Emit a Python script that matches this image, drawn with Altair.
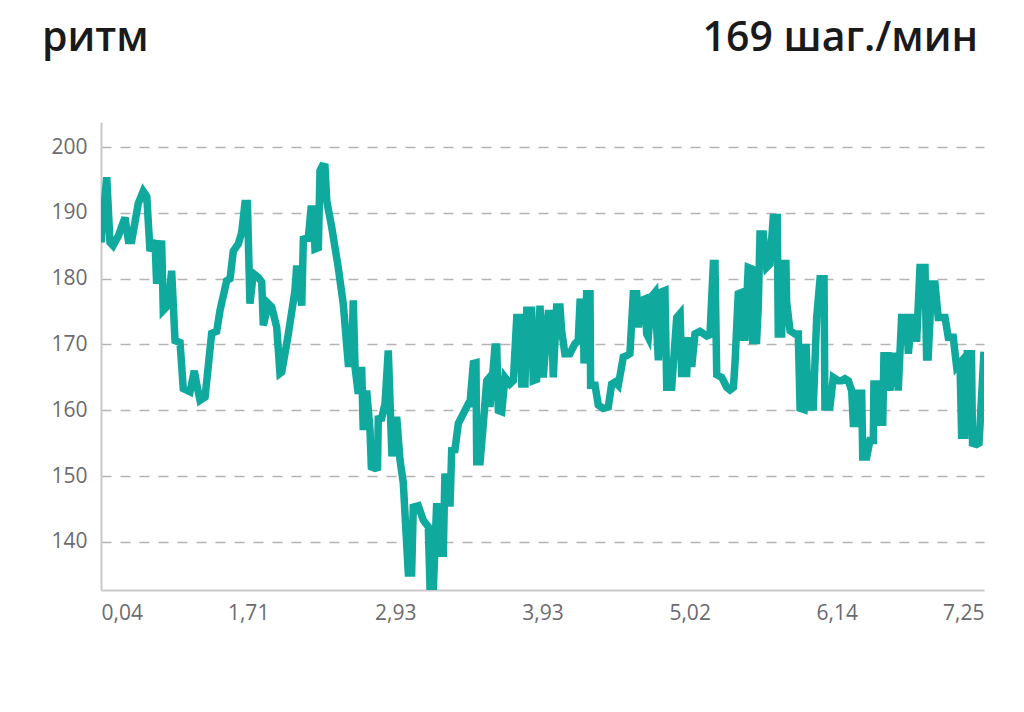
import json
import altair as alt
import pandas as pd

# progress along the run (0..6 = the six labelled segments) and cadence (steps/min)
progress = [0, 0.039, 0.061, 0.082, 0.118, 0.163, 0.186, 0.209, 0.253, 0.287,
            0.311, 0.333, 0.367, 0.378, 0.412, 0.423, 0.457, 0.480, 0.503, 0.537,
            0.559, 0.605, 0.634, 0.650, 0.673, 0.707, 0.752, 0.786, 0.809, 0.854,
            0.877, 0.899, 0.933, 0.956, 0.978, 0.995, 1.012, 1.035, 1.069, 1.092,
            1.103, 1.137, 1.160, 1.194, 1.216, 1.228, 1.273, 1.318, 1.330, 1.364,
            1.375, 1.409, 1.427, 1.443, 1.454, 1.477, 1.488, 1.504, 1.522, 1.534,
            1.568, 1.612, 1.646, 1.680, 1.703, 1.714, 1.726, 1.748, 1.771, 1.782,
            1.805, 1.828, 1.837, 1.862, 1.879, 1.884, 1.907, 1.930, 1.952, 1.977,
            2.009, 2.032, 2.054, 2.088, 2.111, 2.122, 2.156, 2.190, 2.224, 2.236,
            2.258, 2.281, 2.292, 2.326, 2.337, 2.360, 2.372, 2.383, 2.405, 2.428,
            2.462, 2.496, 2.507, 2.530, 2.548, 2.553, 2.576, 2.598, 2.621, 2.632,
            2.643, 2.677, 2.689, 2.700, 2.723, 2.745, 2.779, 2.802, 2.825, 2.847,
            2.859, 2.881, 2.893, 2.926, 2.937, 2.960, 2.983, 3.005, 3.039, 3.062,
            3.073, 3.096, 3.119, 3.130, 3.152, 3.186, 3.220, 3.243, 3.255, 3.277,
            3.282, 3.300, 3.323, 3.327, 3.357, 3.379, 3.413, 3.447, 3.470, 3.493,
            3.515, 3.549, 3.572, 3.594, 3.617, 3.640, 3.651, 3.674, 3.696, 3.708,
            3.719, 3.742, 3.764, 3.787, 3.810, 3.832, 3.844, 3.878, 3.912, 3.935,
            3.946, 3.980, 3.991, 4.014, 4.036, 4.070, 4.116, 4.138, 4.161, 4.172,
            4.184, 4.218, 4.252, 4.274, 4.297, 4.308, 4.330, 4.353, 4.364, 4.376,
            4.398, 4.421, 4.428, 4.455, 4.466, 4.478, 4.500, 4.523, 4.545, 4.568,
            4.595, 4.602, 4.625, 4.636, 4.654, 4.659, 4.682, 4.716, 4.738, 4.750,
            4.777, 4.791, 4.806, 4.840, 4.863, 4.886, 4.913, 4.919, 4.953, 4.976,
            5.010, 5.033, 5.055, 5.078, 5.101, 5.112, 5.135, 5.146, 5.169, 5.176,
            5.203, 5.225, 5.248, 5.252, 5.282, 5.293, 5.312, 5.320, 5.349, 5.361,
            5.383, 5.406, 5.417, 5.440, 5.474, 5.486, 5.508, 5.531, 5.542, 5.565,
            5.599, 5.610, 5.621, 5.644, 5.667, 5.689, 5.735, 5.757, 5.791, 5.814,
            5.837, 5.848, 5.870, 5.886, 5.915, 5.922, 5.949, 5.966, 5.981, 6.0]

cadence = [185.5, 195.4, 185.5, 185.0, 186.5, 189.3, 185.8, 185.8, 191.4, 193.3,
           192.5, 184.2, 185.8, 179.2, 185.8, 175.2, 176.0, 181.2, 170.6, 170.3,
           163.3, 162.8, 166.0, 164.0, 161.5, 162.0, 171.7, 172.0, 175.2, 179.7,
           180.0, 184.2, 185.3, 187.0, 191.4, 191.4, 176.2, 180.8, 180.2, 179.5,
           172.9, 176.2, 175.7, 172.6, 165.6, 165.8, 171.6, 178.2, 182.0, 175.9,
           186.0, 186.2, 190.6, 190.6, 184.5, 184.7, 196.4, 197.1, 197.0, 191.8,
           187.8, 181.7, 176.2, 167.1, 167.1, 176.7, 166.6, 162.5, 166.6, 157.0,
           163.0, 157.0, 151.4, 151.2, 151.3, 158.7, 158.8, 161.0, 169.1, 153.0,
           159.0, 152.4, 149.0, 135.3, 135.3, 145.3, 145.5, 143.3, 142.3, 132.8,
           132.8, 145.9, 138.3, 138.3, 150.4, 145.9, 145.9, 153.9, 154.0, 158.0,
           159.5, 161.0, 161.0, 167.1, 167.2, 152.2, 152.2, 158.0, 164.5, 164.8,
           160.5, 169.6, 169.6, 160.0, 159.8, 165.0, 164.0, 164.5, 174.1, 174.1,
           164.0, 164.0, 175.2, 175.2, 164.5, 164.7, 175.9, 165.0, 174.7, 174.7,
           165.0, 175.7, 175.7, 172.1, 168.6, 168.6, 170.1, 170.6, 176.4, 176.4,
           167.1, 177.7, 177.7, 163.8, 163.8, 160.8, 160.3, 160.5, 164.0, 164.3,
           163.8, 168.1, 168.3, 168.6, 177.7, 177.7, 172.6, 176.7, 176.9, 171.6,
           171.1, 177.3, 177.9, 167.6, 178.0, 178.2, 163.5, 163.5, 174.1, 174.7,
           165.6, 165.6, 171.1, 166.6, 171.6, 172.0, 171.3, 171.5, 182.3, 182.3,
           165.4, 165.0, 163.5, 163.1, 163.5, 167.1, 177.7, 177.9, 171.1, 171.1,
           181.7, 181.5, 170.6, 170.6, 175.7, 186.8, 186.8, 181.7, 182.2, 189.3,
           189.3, 171.6, 171.6, 182.3, 182.3, 176.4, 172.1, 171.6, 171.6, 160.3,
           160.1, 170.1, 160.5, 160.5, 174.1, 180.0, 180.0, 160.5, 160.5, 165.0,
           164.5, 164.5, 164.8, 164.5, 163.0, 158.0, 158.0, 162.6, 162.6, 152.9,
           152.9, 155.4, 155.4, 164.0, 164.0, 158.2, 158.2, 168.3, 168.3, 163.0,
           168.2, 168.2, 163.0, 174.1, 174.1, 168.6, 174.1, 174.1, 170.4, 181.7,
           181.7, 168.1, 168.1, 179.2, 179.2, 174.1, 174.1, 171.1, 171.1, 166.6,
           167.2, 156.2, 156.2, 168.6, 168.6, 155.0, 154.8, 155.0, 161.0, 168.9]

tick_labels = ["0,04", "1,71", "2,93", "3,93", "5,02", "6,14", "7,25"]
y_ticks = [140, 150, 160, 170, 180, 190, 200]
title_left = "ритм"
title_right = "169 шаг./мин"

df = pd.DataFrame({"t": progress, "v": cadence})

W, H = 883, 468
FONT = "Open Sans"

line = alt.Chart(df).mark_line(
    color="#10a99d", strokeWidth=7.5, strokeJoin="miter", clip=True
).encode(
    x=alt.X("t:Q",
            scale=alt.Scale(domain=[0, 6], nice=False, zero=False),
            axis=alt.Axis(values=list(range(7)),
                          labelExpr=json.dumps(tick_labels) + "[round(datum.value)]",
                          labelFlush=True, title=None, grid=False, ticks=False,
                          domainColor="#c9c9c9", domainWidth=2,
                          labelFont=FONT, labelFontSize=21, labelColor="#6b6b70",
                          labelPadding=12)),
    y=alt.Y("v:Q",
            scale=alt.Scale(domain=[132.7, 203.8], nice=False, zero=False),
            axis=alt.Axis(values=y_ticks, title=None, ticks=False,
                          grid=True, gridDash=[10, 9], gridColor="#b4b4b4",
                          gridWidth=1.5,
                          domainColor="#c9c9c9", domainWidth=2,
                          labelFont=FONT, labelFontSize=21, labelColor="#6b6b70",
                          labelPadding=14)),
)

tl = alt.Chart(pd.DataFrame({"s": [title_left]})).mark_text(
    align="left", baseline="alphabetic", font=FONT, fontSize=41,
    fontWeight=600, color="#1a1a1a"
).encode(text="s:N", x=alt.value(-59), y=alt.value(-71))

tr = alt.Chart(pd.DataFrame({"s": [title_right]})).mark_text(
    align="right", baseline="alphabetic", font=FONT, fontSize=41,
    fontWeight=600, color="#1a1a1a"
).encode(text="s:N", x=alt.value(W - 6), y=alt.value(-71))

chart = alt.layer(line, tl, tr).properties(
    width=W, height=H,
    background="white",
    autosize=alt.AutoSizeParams(type="none"),
    padding={"left": 93, "top": 114, "right": 32, "bottom": 100},
).configure_view(stroke=None)

chart.save("out.html", embed_options={"renderer": "svg", "actions": False})
